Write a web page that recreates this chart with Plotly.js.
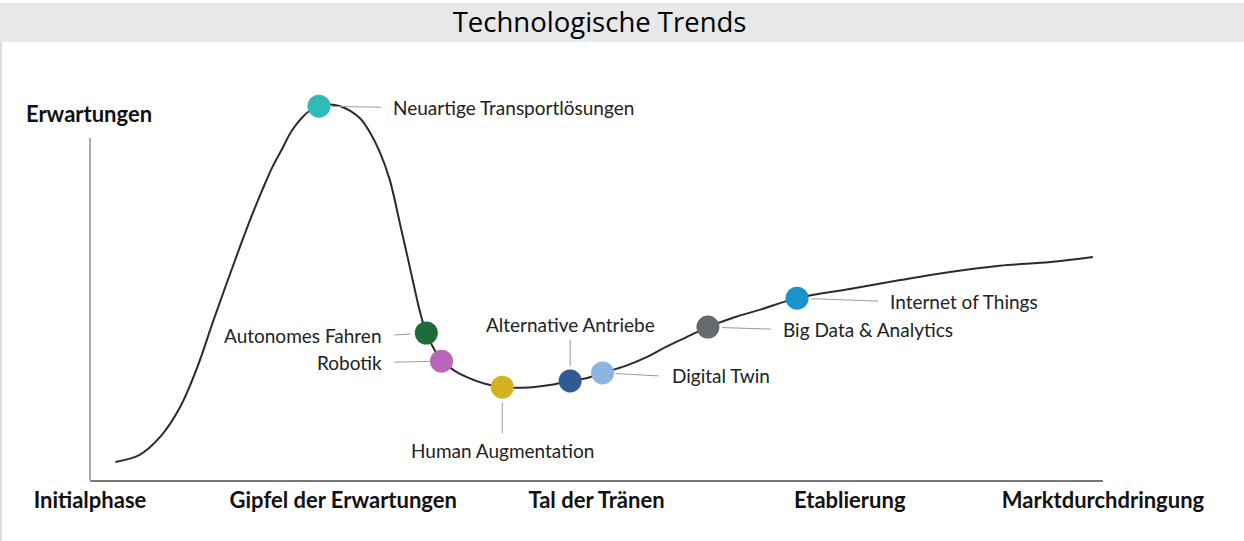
<!DOCTYPE html>
<html>
<head>
<meta charset="utf-8">
<script src="https://cdn.plot.ly/plotly-3.0.1.min.js"></script>
<style>html,body{margin:0;padding:0;background:#fff;}#chart{width:1244px;height:541px;}</style>
</head>
<body>
<div id="chart"></div>
<script>
// ---- Data ----
const chartTitle = "Technologische Trends";
const yAxisLabel = "Erwartungen";
const phaseLabels = ["Initialphase", "Gipfel der Erwartungen", "Tal der Tränen", "Etablierung", "Marktdurchdringung"];
const phasePositions = [0, 25, 50, 75, 100];

// Hype-Zyklus (Zeit vs. Erwartungen)
const curveX = [2.5, 4.9, 6.9, 8.9, 10.6, 12.1, 13.5, 14.8, 16.0, 17.0, 18.0, 19.0, 19.9, 20.9, 21.8, 22.7, 23.7, 24.7, 25.7, 26.7, 27.6, 28.6, 29.6, 30.6, 31.3, 31.9, 32.6, 33.2, 34.0, 34.8, 36.0, 37.2, 39.0, 40.7, 43.7, 45.4, 47.4, 49.1, 50.6, 52.8, 55.0, 56.3, 58.7, 61.0, 63.7, 66.1, 69.8, 75.0, 80.0, 84.9, 89.8, 94.8, 99.0];
const curveY = [4.3, 6.0, 10.2, 17.4, 26.9, 37.4, 46.9, 55.5, 63.1, 69.0, 74.5, 79.0, 83.1, 86.2, 88.1, 89.0, 89.4, 89.0, 87.9, 86.0, 82.9, 78.1, 71.4, 61.0, 53.6, 47.1, 39.8, 35.0, 31.0, 28.3, 26.0, 24.5, 22.9, 22.1, 22.1, 22.6, 23.6, 24.3, 25.5, 27.1, 29.3, 31.0, 33.8, 36.4, 38.8, 40.5, 43.3, 45.5, 47.6, 49.5, 51.0, 51.9, 53.1];

// Technologien auf der Kurve
const techNames = ["Neuartige Transportlösungen", "Autonomes Fahren", "Robotik", "Human Augmentation", "Alternative Antriebe", "Digital Twin", "Big Data & Analytics", "Internet of Things"];
const techX = [22.6, 33.2, 34.7, 40.7, 47.4, 50.6, 61.0, 69.8];
const techY = [89.0, 35.0, 28.3, 22.1, 23.6, 25.5, 36.4, 43.3];

// ---- Styles ----
const techColors = ["#2dbdb6", "#1d6b37", "#b866b8", "#d2b31b", "#2f5a93", "#8fb3e3", "#656a6f", "#1b93c9"];
const labelPlacement = [
  {ax: 62, ay: 1, xanchor: "left", yanchor: "middle", pad: 11, standoff: 13},
  {ax: -32, ay: 2, xanchor: "right", yanchor: "middle", pad: 12, standoff: 16},
  {ax: -47, ay: 1, xanchor: "right", yanchor: "middle", pad: 12, standoff: 12},
  {ax: 0, ay: 46, xanchor: "center", yanchor: "top", pad: 5, standoff: 15},
  {ax: 0, ay: -41, xanchor: "center", yanchor: "bottom", pad: 3, standoff: 15},
  {ax: 56, ay: 3, xanchor: "left", yanchor: "middle", pad: 12, standoff: 13},
  {ax: 63, ay: 2, xanchor: "left", yanchor: "middle", pad: 11, standoff: 14},
  {ax: 81, ay: 3, xanchor: "left", yanchor: "middle", pad: 11, standoff: 14}
];

const labelFont = {family: "Lato, 'Open Sans', sans-serif", size: 19, color: "#222"};
const boldFont = {family: "Lato, 'Open Sans', sans-serif", size: 22, color: "#111", weight: 700};

const traces = [
  {
    x: curveX, y: curveY, type: "scatter", mode: "lines",
    line: {color: "#2b2b2b", width: 2, shape: "spline", smoothing: 1},
    hoverinfo: "skip", showlegend: false
  },
  {
    x: techX, y: techY, type: "scatter", mode: "markers", text: techNames,
    marker: {size: 23, color: techColors, line: {width: 0}},
    cliponaxis: false, hoverinfo: "text", showlegend: false
  }
];

const annotations = techNames.map((name, i) => ({
  x: techX[i], y: techY[i], xref: "x", yref: "y",
  text: name, showarrow: true, arrowhead: 0, arrowwidth: 1, arrowcolor: "#9a9a9a",
  ax: labelPlacement[i].ax, ay: labelPlacement[i].ay,
  xanchor: labelPlacement[i].xanchor, yanchor: labelPlacement[i].yanchor,
  borderpad: labelPlacement[i].pad, standoff: labelPlacement[i].standoff,
  font: labelFont
}));

annotations.push({
  xref: "paper", yref: "paper", x: -0.0652, y: 0.873, xanchor: "left", yanchor: "middle",
  text: yAxisLabel, showarrow: false, font: boldFont
});

const layout = {
  width: 1244, height: 541,
  margin: {l: 90, r: 141, t: 60, b: 61},
  paper_bgcolor: "#ffffff", plot_bgcolor: "#ffffff",
  title: {
    text: chartTitle, xref: "container", yref: "container",
    x: 0.482, y: 0.958, xanchor: "center", yanchor: "middle",
    font: {family: "'Open Sans', sans-serif", size: 27.5, color: "#000"}
  },
  xaxis: {
    range: [0, 100], showgrid: false, zeroline: false,
    showline: true, linecolor: "#7a7a7a", linewidth: 2,
    ticks: "", tickvals: phasePositions, ticktext: phaseLabels,
    tickfont: boldFont, ticklabelstandoff: 0, fixedrange: true
  },
  yaxis: {
    range: [0, 100], showgrid: false, zeroline: false, showline: false,
    showticklabels: false, ticks: "", fixedrange: true
  },
  shapes: [
    {type: "rect", xref: "paper", yref: "paper", x0: -0.0888, x1: 1.1392, y0: 1.0429, y1: 1.1357,
     fillcolor: "#e7e8ea", line: {width: 0}, layer: "below"},
    {type: "line", xref: "paper", yref: "paper", x0: -0.0878, x1: -0.0878, y0: -0.2, y1: 1.0429,
     line: {color: "#dcdcdc", width: 2}, layer: "below"},
    {type: "line", xref: "paper", yref: "paper", x0: 0, x1: 0, y0: 0, y1: 0.814,
     line: {color: "#8a8a8a", width: 1.5}, layer: "below"}
  ],
  annotations: annotations,
  showlegend: false, hovermode: "closest"
};

Plotly.newPlot("chart", traces, layout, {displayModeBar: false, staticPlot: false});
</script>
</body>
</html>
